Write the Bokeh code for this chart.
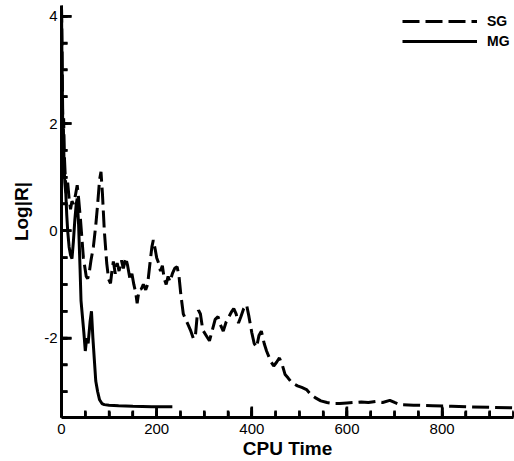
from bokeh.plotting import figure
from bokeh.models import Range1d, SingleIntervalTicker, PrintfTickFormatter, Legend, LegendItem
from bokeh.embed import file_html
from bokeh.resources import INLINE

# Single-grid (SG) residual history
sg_time = [0, 1, 2, 3, 4.5, 6, 8, 10, 13, 16, 19, 22, 25, 29, 33, 36, 40, 46, 52, 55, 58, 62, 67, 72, 76,
           80, 83, 86, 90, 95, 99, 103, 106, 109, 113, 117, 121, 126, 130, 135, 139, 144, 148, 152, 156,
           159, 163, 168, 172, 177, 181, 186, 190, 193, 197, 200, 204, 208, 212, 216, 220, 224, 228, 233,
           238, 243, 247, 251, 256, 261, 266, 271, 277, 281, 285, 288, 292, 297, 304, 311, 317, 323, 329,
           334, 340, 346, 352, 358, 362, 367, 372, 377, 383, 389, 394, 400, 405, 410, 415, 420, 426, 431,
           436, 441, 446, 452, 458, 464, 470, 476, 483, 490, 496, 505, 515, 524, 533, 545, 558, 572, 585,
           600, 615, 630, 645, 660, 675, 690, 700, 711, 740, 780, 820, 852, 900, 948]
sg_res = [4.2, 3.5, 2.6, 1.8, 2.1, 1.4, 1.0, 0.7, 0.9, 0.6, 0.4, 0.55, 0.5, 0.65, 0.85, 0.6, 0.2, -0.5,
          -0.85, -0.89, -0.8, -0.55, -0.3, 0.1, 0.5, 0.95, 1.1, 0.7, 0.0, -0.6, -0.9, -0.98, -0.75, -0.57,
          -0.8, -0.6, -0.75, -0.55, -0.7, -0.5, -0.65, -0.9, -0.8, -1.0, -1.15, -1.35, -1.1, -1.08, -1.0,
          -1.1, -1.0, -0.6, -0.3, -0.17, -0.35, -0.5, -0.6, -0.75, -0.65, -0.9, -1.0, -0.85, -0.95, -0.8,
          -0.7, -0.67, -0.85, -1.2, -1.55, -1.65, -1.75, -1.85, -2.0, -2.0, -1.6, -1.48, -1.55, -1.85,
          -1.95, -2.05, -1.85, -1.65, -1.6, -1.75, -1.87, -1.7, -1.6, -1.5, -1.45, -1.55, -1.72, -1.6,
          -1.45, -1.38, -1.6, -1.9, -2.1, -2.17, -1.95, -1.87, -2.1, -2.24, -2.35, -2.45, -2.52, -2.45,
          -2.37, -2.5, -2.68, -2.74, -2.82, -2.86, -2.89, -2.92, -2.96, -3.05, -3.11, -3.17, -3.2, -3.22,
          -3.22, -3.21, -3.2, -3.19, -3.2, -3.18, -3.2, -3.16, -3.2, -3.24, -3.25, -3.26, -3.27, -3.28,
          -3.29, -3.3]

# Multigrid (MG) residual history
mg_time = [0, 1, 2, 3, 4, 5.5, 7, 9, 11, 13, 16, 19, 22, 25, 28, 31, 33, 36, 39, 41, 44, 47, 50, 53, 56,
           60, 63, 66, 69, 72, 76, 80, 85, 90, 100, 120, 150, 190, 233]
mg_res = [4.2, 3.2, 2.4, 1.7, 1.9, 1.2, 0.9, 0.7, 0.3, 0.0, -0.3, -0.45, -0.52, -0.2, 0.2, 0.5, 0.6, 0.1,
          -0.7, -1.3, -1.6, -1.9, -2.24, -2.0, -2.1, -1.7, -1.5, -2.0, -2.4, -2.8, -3.0, -3.15, -3.22,
          -3.24, -3.25, -3.26, -3.27, -3.28, -3.28]

x_major = [0, 200, 400, 600, 800]
y_major = [-2, 0, 2, 4]
x_minor = [v * 50 for v in range(0, 20)]
y_minor = [v * 0.5 for v in range(-6, 9)]
series_names = ["SG", "MG"]

X0, X1 = 0, 950
Y0, Y1 = -3.48, 4.2
FONT = "Liberation Sans"
W, H = 514, 461
BL, BR, BT, BB = 61, 1, 5, 41

p = figure(width=W, height=H, output_backend="svg", toolbar_location=None,
           x_range=Range1d(X0, X1), y_range=Range1d(Y0, Y1),
           min_border_left=BL, min_border_right=BR, min_border_top=BT, min_border_bottom=BB)
p.outline_line_color = None
p.xgrid.visible = False
p.ygrid.visible = False

sg = p.line(sg_time, sg_res, line_color="black", line_width=3, line_dash="17 6")
mg = p.line(mg_time, mg_res, line_color="black", line_width=3)

# inward tick marks as short segments (tick lengths in pixels converted to data units)
ux = (X1 - X0) / (W - BL - BR)
uy = (Y1 - Y0) / (H - BT - BB)
p.segment(x0=[X0] * len(y_major), y0=y_major, x1=[X0 + 10 * ux] * len(y_major), y1=y_major,
          line_color="black", line_width=2.5)
p.segment(x0=[X0] * len(y_minor), y0=y_minor, x1=[X0 + 6 * ux] * len(y_minor), y1=y_minor,
          line_color="black", line_width=2.5)
p.segment(x0=x_major, y0=[Y0] * len(x_major), x1=x_major, y1=[Y0 + 11 * uy] * len(x_major),
          line_color="black", line_width=2.5)
p.segment(x0=x_minor, y0=[Y0] * len(x_minor), x1=x_minor, y1=[Y0 + 7 * uy] * len(x_minor),
          line_color="black", line_width=2.5)

p.xaxis.ticker = SingleIntervalTicker(interval=200, num_minor_ticks=4)
p.yaxis.ticker = SingleIntervalTicker(interval=2, num_minor_ticks=4)
for ax in (p.xaxis[0], p.yaxis[0]):
    ax.formatter = PrintfTickFormatter(format="%d")
    ax.axis_line_width = 3
    ax.axis_line_color = "black"
    ax.major_tick_in = 10
    ax.major_tick_out = 0
    ax.minor_tick_in = 6
    ax.minor_tick_out = 0
    ax.major_tick_line_width = 2.5
    ax.minor_tick_line_width = 2.5
    ax.major_tick_line_color = "black"
    ax.minor_tick_line_color = "black"
    ax.major_label_text_font = FONT
    ax.major_label_text_font_size = "15px"
    ax.major_label_text_color = "black"
    ax.axis_label_text_font = FONT
    ax.axis_label_text_font_style = "bold"
    ax.axis_label_text_font_size = "19px"
    ax.axis_label_text_color = "black"

p.xaxis.axis_label = "CPU Time"
p.yaxis.axis_label = "Log|R|"
p.xaxis.major_label_standoff = 6
p.xaxis.axis_label_standoff = 1
p.yaxis.major_label_standoff = 4
p.yaxis.axis_label_standoff = 9

legend = Legend(items=[LegendItem(label=series_names[0], renderers=[sg]),
                       LegendItem(label=series_names[1], renderers=[mg])],
                location=(341, 366), background_fill_alpha=0, border_line_color=None,
                padding=0, margin=0, spacing=0, glyph_width=75, glyph_height=20,
                label_height=20, label_width=20, label_standoff=10,
                label_text_font=FONT, label_text_font_style="bold",
                label_text_font_size="14px", label_text_color="black")
p.add_layout(legend)

open("out.html", "w").write(file_html(p, INLINE))
